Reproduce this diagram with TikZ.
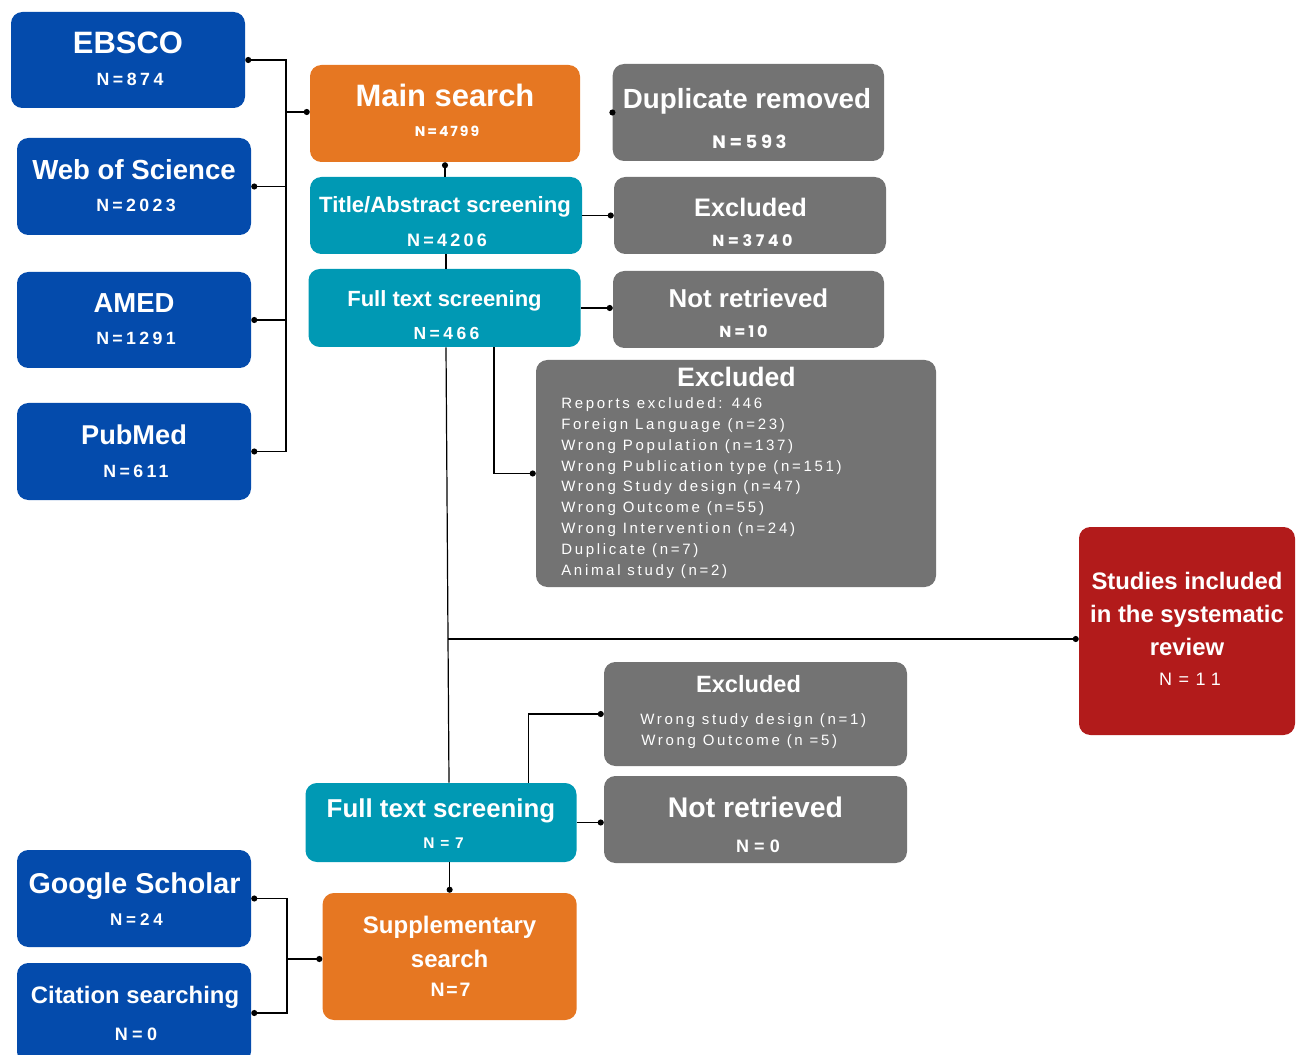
\documentclass[tikz,border=0pt]{standalone}
\usepackage{fontspec}
\setmainfont{Liberation Sans}
\newfontfamily\popfont{Poppins}
\usetikzlibrary{calc,arrows.meta}
\definecolor{cblue}{RGB}{4,75,172}
\definecolor{corange}{RGB}{230,119,34}
\definecolor{cteal}{RGB}{0,153,180}
\definecolor{cgrey}{RGB}{115,115,115}
\definecolor{cred}{RGB}{178,27,27}
\newcommand\fsz[1]{\fontsize{#1}{#1}\selectfont}
\newcommand\nlab[2]{\fontsize{#1}{#1}\selectfont\addfontfeature{LetterSpace=#2}}
\newcommand\plab[2]{\popfont\bfseries\fontsize{#1}{#1}\selectfont\addfontfeature{LetterSpace=#2}}
\newcommand\bx[6]{\node[boxst, fill=#6, minimum width={(#4-#2)*0.75pt}, minimum height={(#5-#3)*0.75pt}] (#1) at ({(#2+#4)/2},{(#3+#5)/2}) {};}
\begin{document}
\begin{tikzpicture}[x=0.75pt,y=-0.75pt,
  boxst/.style={rectangle, rounded corners=8.5pt, inner sep=0pt, draw=none},
  ttl/.style={anchor=base, text=white, inner sep=0pt, font=\bfseries},
  nn/.style={anchor=base, text=white, inner sep=0pt, font=\bfseries},
  sm/.style={anchor=base west, text=white, inner sep=0pt, font=\fsz{11.25}\addfontfeature{LetterSpace=18}},
  ln/.style={draw=black, line width=1.35pt},
  thin/.style={draw=black, line width=0.9pt},
  dotE/.style={-{Circle[length=4.5pt]}},
  dotS/.style={{Circle[length=4.5pt]}-}]
\useasboundingbox (0,0) rectangle (1296,1055);

% boxes
\bx{ebsco}{11}{12}{245}{108}{cblue}
\bx{wos}{17}{138}{251}{235}{cblue}
\bx{amed}{17}{272}{251}{368}{cblue}
\bx{pubmed}{17}{403}{251}{500}{cblue}
\bx{main}{310}{65}{580}{162}{corange}
\bx{ta}{310}{177}{582}{254}{cteal}
\bx{ftone}{308.5}{269}{580.5}{347}{cteal}
\bx{dup}{612.7}{64}{884}{161}{cgrey}
\bx{exone}{614}{177}{886}{254}{cgrey}
\bx{nrone}{613}{271}{884}{348}{cgrey}
\bx{bigx}{536}{360}{936}{587}{cgrey}
\bx{incl}{1079}{527}{1295}{735}{cred}
\bx{extwo}{604}{662}{907}{766}{cgrey}
\bx{nrtwo}{604}{776}{907}{863}{cgrey}
\bx{fttwo}{305.5}{783}{576.5}{862}{cteal}
\bx{gs}{17}{850}{251}{947}{cblue}
\bx{cit}{17}{963}{251}{1063}{cblue}
\bx{supp}{322.6}{893}{576.7}{1020}{corange}

% texts
\node[ttl] (ebscoT) at (128,54) {\fsz{23.2}EBSCO};
\node[nn] (ebscoN) at (130,86) {\nlab{13.3}{20}N=874};
\node[ttl] (wosT) at (134,180) {\fsz{20.7}Web of Science};
\node[nn] (wosN) at (136,212) {\nlab{13.3}{19}N=2023};
\node[ttl] (amedT) at (134,313) {\fsz{20.6}AMED};
\node[nn] (amedN) at (136,345) {\nlab{13.3}{19}N=1291};
\node[ttl] (pubmedT) at (134,445) {\fsz{20.4}PubMed};
\node[nn] (pubmedN) at (136,477) {\nlab{13.3}{19}N=611};
\node[ttl] (mainT) at (445,107) {\fsz{23.2}Main search};
\node[nn] (mainN) at (447,137) {\plab{10.5}{14}N=4799};
\node[ttl] (taT) at (445,213) {\fsz{16.6}Title/Abstract screening};
\node[nn] (taN) at (447,247) {\nlab{13.5}{18}N=4206};
\node[ttl] (ftoneT) at (444.5,307) {\fsz{16.5}Full text screening};
\node[nn] (ftoneN) at (446.5,340) {\nlab{13.1}{20}N=466};
\node[ttl] (dupT) at (747,109) {\fsz{20.8}Duplicate removed};
\node[nn] (dupN) at (749.5,149) {\plab{13.5}{20}N=593};
\node[ttl] (exoneT) at (750.5,217) {\fsz{19}Excluded};
\node[nn] (exoneN) at (752.5,247) {\plab{12}{22}N=3740};
\node[ttl] (nroneT) at (748.5,308) {\fsz{19.4}Not retrieved};
\node[nn] (nroneN) at (743.5,338) {\plab{12}{18}N=10};
\node[ttl] (bigxT) at (736.5,387) {\fsz{20}Excluded};
\node[sm] (bx1) at (561,408.3) {Reports excluded: 446};
\node[sm] (bx2) at (561,429.2) {Foreign Language (n=23)};
\node[sm] (bx3) at (561,450.1) {Wrong Population (n=137)};
\node[sm] (bx4) at (561,471.0) {Wrong Publication type (n=151)};
\node[sm] (bx5) at (561,491.9) {Wrong Study design (n=47)};
\node[sm] (bx6) at (561,512.8) {Wrong Outcome (n=55)};
\node[sm] (bx7) at (561,533.7) {Wrong Intervention (n=24)};
\node[sm] (bx8) at (561,554.6) {Duplicate (n=7)};
\node[sm] (bx9) at (561,575.5) {Animal study (n=2)};
\node[ttl] (incl1) at (1187,589) {\fsz{17.9}Studies included};
\node[ttl] (incl2) at (1187,622) {\fsz{17.9}in the systematic};
\node[ttl] (incl3) at (1187,655) {\fsz{17.9}review};
\node[anchor=base, text=white, inner sep=0pt] (inclN) at (1190,685) {\nlab{13.5}{36}N=11};
\node[ttl] (extwoT) at (748.5,692) {\fsz{17.7}Excluded};
\node[sm] (ex21) at (640,724) {Wrong study design (n=1)};
\node[sm] (ex22) at (641,745) {Wrong Outcome (n =5)};
\node[ttl] (nrtwoT) at (755.5,817) {\fsz{21.3}Not retrieved};
\node[nn] (nrtwoN) at (758,852) {\nlab{13.5}{29}N=0};
\node[ttl] (fttwoT) at (441,817) {\fsz{19.4}Full text screening};
\node[nn] (fttwoN) at (443.5,848) {\nlab{11.6}{37}N=7};
\node[ttl] (gsT) at (134.5,893) {\fsz{21.5}Google Scholar};
\node[nn] (gsN) at (136.5,925) {\nlab{12.75}{23}N=24};
\node[ttl] (citT) at (135,1003) {\fsz{17.9}Citation searching};
\node[nn] (citN) at (136,1040) {\nlab{13.5}{24}N=0};
\node[ttl] (supp1) at (449.6,933) {\fsz{18}Supplementary};
\node[ttl] (supp2) at (449.6,967) {\fsz{18}search};
\node[nn] (suppN) at (450.5,996) {\nlab{14.6}{9}N=7};

% connectors
\coordinate (jone) at (286,112);
\coordinate (jtwo) at (448,639);
\coordinate (jthree) at (287,959);
\draw[ln,dotS] (ebsco.east) -| (jone);
\draw[ln,dotS] (pubmed.east) -| (jone);
\draw[ln,dotS] (wos.east) -- (wos.east -| jone);
\draw[ln,dotS] (amed.east) -- (amed.east -| jone);
\draw[ln,dotE] (jone) -- (jone -| main.west);
\draw[ln,dotS] (main.south) -- (main.south |- ta.north);
\draw[thin] (ta.south) -- (ta.south |- ftone.north);
\draw[ln,dotE] (ta.east) -- (exone.west);
\draw[ln,dotE] (ftone.east) -- (ftone.east -| nrone.west);
\fill (dup.west) circle[radius=2.3pt];
\draw[ln,dotE] ($(ftone.south)+(49.5,0)$) |- (bigx.west);
\draw[thin] ($(ftone.south)+(1.5,0)$) -- ($(fttwo.north)+(8,0)$);
\draw[ln,dotE] (jtwo) -- (jtwo -| incl.west);
\draw[ln,dotE] ($(fttwo.north)+(87.5,0)$) |- (extwo.west);
\draw[ln,dotE] (fttwo.east) -- (fttwo.east -| nrtwo.west);
\draw[thin,dotE] (supp.north |- fttwo.south) -- (supp.north);
\draw[ln,dotS] (gs.east) -| (jthree);
\draw[ln,dotS] (cit.east) -| (jthree);
\draw[ln,dotE] (jthree) -- (jthree -| supp.west);
\end{tikzpicture}
\end{document}
